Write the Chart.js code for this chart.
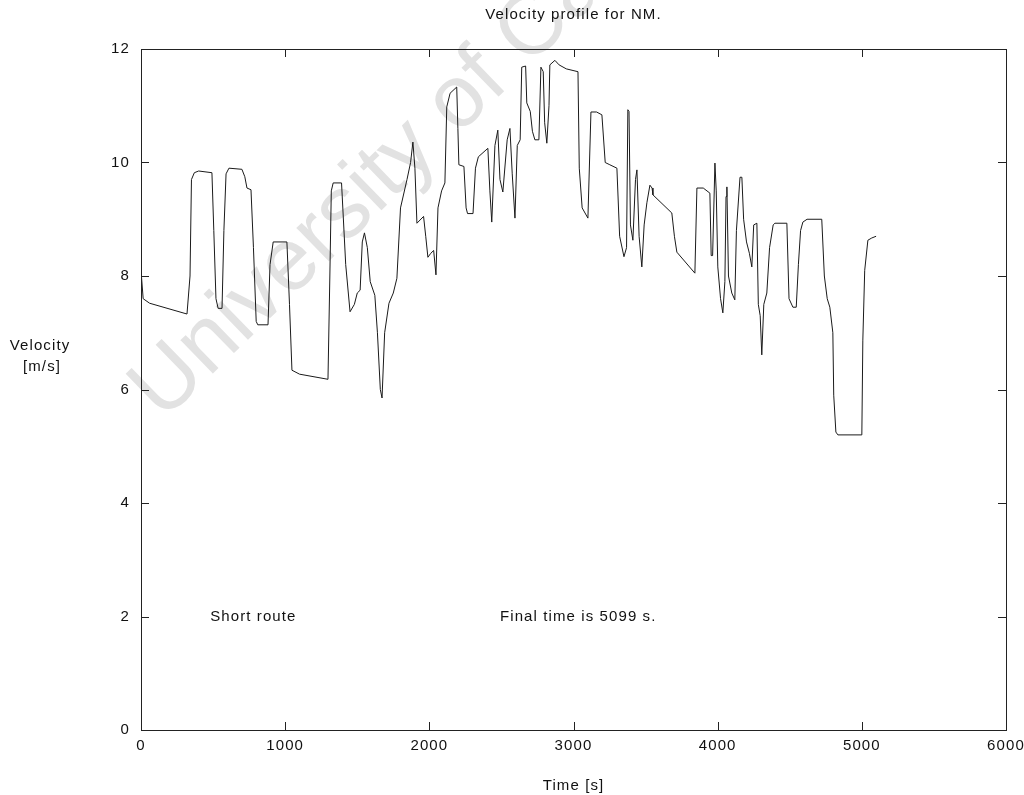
<!DOCTYPE html>
<html>
<head>
  <title>Velocity profile for NM.</title>
  <script src="https://cdn.jsdelivr.net/npm/chart.js"></script>
  <style>
    body { margin: 0; background: #fff; }
    #wrap { position: relative; width: 1024px; height: 795px; }
  </style>
</head>
<body>
  <div id="wrap"><canvas id="velChart" width="1024" height="795"></canvas></div>
  <script>
    // time [s] and velocity [m/s]
    var timeS = [0, 15, 60, 319, 340, 350, 370, 400, 492, 505, 520, 535, 562, 575, 590, 610, 700, 720, 735, 763, 780, 799, 810, 881, 895, 917, 1012, 1030, 1047, 1100, 1297, 1310, 1320, 1333, 1391, 1420, 1450, 1480, 1500, 1520, 1535, 1550, 1570, 1590, 1622, 1640, 1660, 1672, 1690, 1720, 1750, 1775, 1800, 1845, 1870, 1886, 1900, 1914, 1960, 1975, 1990, 2010, 2030, 2046, 2060, 2085, 2108, 2121, 2144, 2190, 2198, 2205, 2240, 2255, 2265, 2303, 2320, 2340, 2406, 2420, 2433, 2455, 2475, 2490, 2510, 2540, 2559, 2575, 2594, 2610, 2630, 2641, 2668, 2676, 2700, 2715, 2732, 2760, 2774, 2790, 2800, 2815, 2830, 2836, 2871, 2900, 2950, 3031, 3040, 3060, 3100, 3121, 3160, 3197, 3220, 3252, 3301, 3320, 3350, 3368, 3377, 3385, 3395, 3412, 3430, 3440, 3455, 3474, 3490, 3509, 3530, 3545, 3551, 3682, 3700, 3717, 3842, 3856, 3900, 3946, 3955, 3965, 3981, 3990, 4001, 4020, 4036, 4050, 4058, 4064, 4075, 4098, 4119, 4130, 4155, 4168, 4180, 4200, 4220, 4237, 4250, 4272, 4282, 4295, 4306, 4320, 4341, 4360, 4385, 4397, 4480, 4495, 4522, 4545, 4560, 4575, 4591, 4620, 4722, 4740, 4760, 4778, 4799, 4805, 4820, 4834, 5000, 5007, 5020, 5042, 5069, 5099];
    var velocity = [8.1, 7.6, 7.52, 7.33, 8.0, 9.7, 9.82, 9.85, 9.82, 8.8, 7.6, 7.43, 7.43, 8.8, 9.8, 9.9, 9.88, 9.75, 9.55, 9.52, 8.5, 7.2, 7.14, 7.14, 8.2, 8.6, 8.6, 7.5, 6.34, 6.27, 6.18, 8.0, 9.5, 9.64, 9.64, 8.2, 7.37, 7.5, 7.7, 7.75, 8.6, 8.76, 8.5, 7.9, 7.66, 7.0, 6.0, 5.85, 7.0, 7.52, 7.7, 7.96, 9.2, 9.7, 10.0, 10.36, 9.9, 8.93, 9.05, 8.7, 8.33, 8.4, 8.45, 8.02, 9.2, 9.5, 9.64, 10.98, 11.22, 11.33, 10.6, 9.96, 9.93, 9.2, 9.1, 9.1, 9.9, 10.1, 10.25, 9.5, 8.95, 10.3, 10.57, 9.7, 9.48, 10.4, 10.6, 9.8, 9.02, 10.3, 10.4, 11.68, 11.7, 11.05, 10.9, 10.55, 10.4, 10.4, 11.68, 11.6, 10.7, 10.34, 11.0, 11.72, 11.8, 11.72, 11.65, 11.6, 9.9, 9.2, 9.02, 10.89, 10.89, 10.84, 10.0, 9.96, 9.9, 8.7, 8.34, 8.5, 10.93, 10.9, 8.9, 8.63, 9.7, 9.87, 8.7, 8.16, 8.9, 9.29, 9.6, 9.55, 9.43, 9.11, 8.7, 8.42, 8.05, 9.55, 9.55, 9.46, 8.36, 8.36, 9.99, 9.5, 8.16, 7.6, 7.35, 7.9, 9.4, 9.57, 8.0, 7.7, 7.58, 8.8, 9.74, 9.74, 9.0, 8.6, 8.4, 8.16, 8.9, 8.93, 7.5, 7.3, 6.61, 7.5, 7.7, 8.5, 8.9, 8.93, 8.93, 7.6, 7.45, 7.45, 8.2, 8.8, 8.95, 9.0, 9.0, 8.0, 7.6, 7.45, 7.0, 5.9, 5.25, 5.2, 5.2, 6.87, 8.1, 8.63, 8.67, 8.7];

    var xTicks = [0, 1000, 2000, 3000, 4000, 5000, 6000];
    var yTicks = [0, 2, 4, 6, 8, 10, 12];

    var chartTitle = 'Velocity profile for NM.';
    var xTitle = 'Time [s]';
    var yTitle = ['Velocity', '[m/s]'];
    var notes = [
      { x: 480, y: 2, text: 'Short route' },
      { x: 2490, y: 2, text: 'Final time is 5099 s.' }
    ];

    var points = timeS.map(function (t, i) { return { x: t, y: velocity[i] }; });

    var FAMILY = '"Liberation Sans", Arial, sans-serif';
    var FONT = '15px ' + FAMILY;

    // matlab style box, inward ticks, titles and text notes
    var matlabFrame = {
      id: 'matlabFrame',
      beforeDraw: function (chart) {
        chart.ctx.letterSpacing = '1.1px';
      },
      beforeDatasetsDraw: function (chart) {
        var ctx = chart.ctx;
        // faint watermark
        ctx.save();
        ctx.translate(163, 422);
        ctx.rotate(-0.77);
        ctx.fillStyle = '#e2e2e2';
        ctx.font = '88px ' + FAMILY;
        ctx.letterSpacing = '0px';
        ctx.fillText('University of Cape Town', 0, 0);
        ctx.restore();
      },
      afterDraw: function (chart) {
        var ctx = chart.ctx, a = chart.chartArea;
        var xs = chart.scales.x, ys = chart.scales.y;
        ctx.save();
        ctx.strokeStyle = '#222';
        ctx.lineWidth = 1;
        ctx.strokeRect(a.left + 0.5, a.top + 0.5, a.right - a.left, a.bottom - a.top);
        ctx.beginPath();
        xTicks.forEach(function (v) {
          var px = Math.round(xs.getPixelForValue(v)) + 0.5;
          ctx.moveTo(px, a.bottom); ctx.lineTo(px, a.bottom - 8);
          ctx.moveTo(px, a.top); ctx.lineTo(px, a.top + 8);
        });
        yTicks.forEach(function (v) {
          var py = Math.round(ys.getPixelForValue(v)) + 0.5;
          ctx.moveTo(a.left, py); ctx.lineTo(a.left + 8, py);
          ctx.moveTo(a.right, py); ctx.lineTo(a.right - 8, py);
        });
        ctx.stroke();

        ctx.fillStyle = '#111';
        ctx.font = FONT;
        ctx.textAlign = 'center';
        ctx.textBaseline = 'middle';
        ctx.fillText(chartTitle, (a.left + a.right) / 2, 15);
        ctx.fillText(xTitle, (a.left + a.right) / 2, 786);
        ctx.fillText(yTitle[0], 40, 346);
        ctx.fillText(yTitle[1], 42, 367);

        ctx.textAlign = 'left';
        notes.forEach(function (n) {
          ctx.fillText(n.text, xs.getPixelForValue(n.x), ys.getPixelForValue(n.y));
        });
        ctx.restore();
      }
    };

    var ctx = document.getElementById('velChart').getContext('2d');
    var chart = new Chart(ctx, {
      type: 'line',
      data: {
        datasets: [{
          data: points,
          borderColor: '#1a1a1a',
          borderWidth: 1,
          pointRadius: 0,
          tension: 0,
          fill: false
        }]
      },
      options: {
        responsive: false,
        animation: false,
        layout: { padding: { top: 49, right: 18, left: 0, bottom: 0 } },
        plugins: {
          legend: { display: false },
          tooltip: { enabled: false }
        },
        scales: {
          x: {
            type: 'linear',
            min: 0,
            max: 6000,
            afterBuildTicks: function (s) { s.ticks = xTicks.map(function (v) { return { value: v }; }); },
            afterFit: function (s) { s.height = 65; s.paddingLeft = 0; s.paddingRight = 0; },
            grid: { display: false, drawTicks: false },
            border: { display: false },
            ticks: { color: '#111', font: { family: FAMILY, size: 15 }, padding: 7, maxRotation: 0, callback: function (v) { return String(v); } }
          },
          y: {
            min: 0,
            max: 12,
            afterBuildTicks: function (s) { s.ticks = yTicks.map(function (v) { return { value: v }; }); },
            afterFit: function (s) { s.width = 141; s.paddingTop = 0; s.paddingBottom = 0; },
            grid: { display: false, drawTicks: false },
            border: { display: false },
            ticks: { color: '#111', font: { family: FAMILY, size: 15 }, padding: 11, callback: function (v) { return String(v); } }
          }
        }
      },
      plugins: [matlabFrame]
    });
  </script>
</body>
</html>
